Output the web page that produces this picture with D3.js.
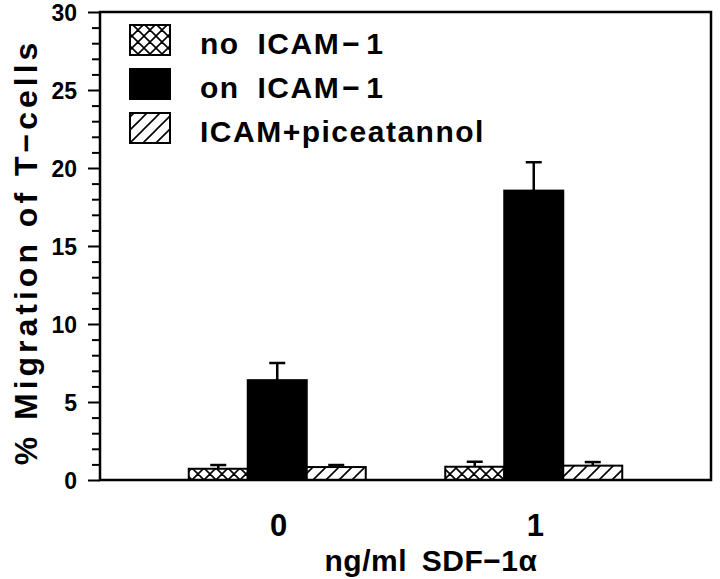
<!DOCTYPE html>
<html><head><meta charset="utf-8">
<script src="https://cdn.jsdelivr.net/npm/d3@7"></script>
<style>html,body{margin:0;padding:0;background:#fff;}svg{display:block;}
text{font-family:"Liberation Sans",Arial,Helvetica,sans-serif;font-weight:bold;fill:#000;}</style>
</head><body>
<script>
const categories = ["0", "1"];
const seriesNames = ["no ICAM\u22121", "on ICAM\u22121", "ICAM+piceatannol"];
const noIcam = [0.72, 0.85];
const noIcamErr = [0.24, 0.32];
const onIcam = [6.4, 18.55];
const onIcamErr = [1.1, 1.82];
const piceatannol = [0.83, 0.92];
const piceatannolErr = [0.13, 0.23];
const yTicks = [0, 5, 10, 15, 20, 25, 30];
const xTitle = "ng/ml SDF\u22121\u03b1";
const yTitle = "% Migration of T\u2212cells";

const W = 720, H = 579;
const mLeft = 100, mRight = 711, mTop = 12, mBottom = 480;
const svg = d3.select("body").append("svg").attr("width", W).attr("height", H);

const defs = svg.append("defs");
const cross = defs.append("pattern").attr("id","cross").attr("patternUnits","userSpaceOnUse")
  .attr("width",12).attr("height",12);
cross.append("rect").attr("width",12).attr("height",12).attr("fill","#fff");
cross.append("path").attr("d","M0,0L12,12M12,0L0,12M-6,6L6,18M6,-6L18,6M-6,6L6,-6M6,18L18,6")
  .attr("stroke","#000").attr("stroke-width",1.6).attr("fill","none");
const diag = defs.append("pattern").attr("id","diag").attr("patternUnits","userSpaceOnUse")
  .attr("width",13).attr("height",13);
diag.append("rect").attr("width",13).attr("height",13).attr("fill","#fff");
diag.append("path").attr("d","M0,13L13,0M-6.5,6.5L6.5,-6.5M6.5,19.5L19.5,6.5")
  .attr("stroke","#000").attr("stroke-width",1.6).attr("fill","none");
const fills = ["url(#cross)", "#000", "url(#diag)"];

const y = d3.scaleLinear().domain([0, 30]).range([mBottom, mTop]);
const x0 = d3.scalePoint().domain(categories).range([mLeft, mRight]).padding(0.691);
const x1 = d3.scaleBand().domain(d3.range(3)).range([-88.5, 88.5]);

const data = [];
categories.forEach((c, i) => {
  [[noIcam, noIcamErr], [onIcam, onIcamErr], [piceatannol, piceatannolErr]].forEach((s, k) => {
    data.push({c, k, v: s[0][i], e: s[1][i]});
  });
});

// bars
const g = svg.append("g");
g.selectAll("rect.bar").data(data).join("rect")
  .attr("x", d => x0(d.c) + x1(d.k))
  .attr("y", d => y(d.v))
  .attr("width", x1.bandwidth())
  .attr("height", d => y(0) - y(d.v))
  .attr("fill", d => fills[d.k])
  .attr("stroke", "#000").attr("stroke-width", 2);
// error bars
g.selectAll("line.err").data(data).join("line")
  .attr("x1", d => x0(d.c) + x1(d.k) + x1.bandwidth()/2)
  .attr("x2", d => x0(d.c) + x1(d.k) + x1.bandwidth()/2)
  .attr("y1", d => y(d.v)).attr("y2", d => y(d.v + d.e))
  .attr("stroke", "#000").attr("stroke-width", 2.5);
g.selectAll("line.cap").data(data).join("line")
  .attr("x1", d => x0(d.c) + x1(d.k) + x1.bandwidth()/2 - 8)
  .attr("x2", d => x0(d.c) + x1(d.k) + x1.bandwidth()/2 + 8)
  .attr("y1", d => y(d.v + d.e)).attr("y2", d => y(d.v + d.e))
  .attr("stroke", "#000").attr("stroke-width", 2.5);

// frame
svg.append("rect").attr("x", mLeft).attr("y", mTop).attr("width", mRight - mLeft).attr("height", mBottom - mTop)
  .attr("fill", "none").attr("stroke", "#000").attr("stroke-width", 2.5);

// y axis
const yAxis = d3.axisLeft(y).tickValues(yTicks).tickSize(12).tickPadding(11);
const ya = svg.append("g").attr("transform", `translate(${mLeft},0)`).call(yAxis);
ya.select(".domain").remove();
ya.selectAll(".tick line").attr("stroke", "#000").attr("stroke-width", 2);
ya.selectAll(".tick text").style("font-size", "23px").attr("dy", "0.36em");
const yMinor = d3.axisLeft(y).tickValues(d3.range(0, 31).filter(v => v % 5 !== 0)).tickSize(8).tickFormat("");
const ym = svg.append("g").attr("transform", `translate(${mLeft},0)`).call(yMinor);
ym.select(".domain").remove();
ym.selectAll(".tick line").attr("stroke", "#000").attr("stroke-width", 2);

// x axis labels
const xAxis = d3.axisBottom(x0).tickSize(0).tickPadding(34);
const xa = svg.append("g").attr("transform", `translate(0,${mBottom})`).call(xAxis);
xa.select(".domain").remove();
xa.selectAll(".tick text").style("font-size", "31px").attr("dx", "1");

svg.append("text").attr("x", 431).attr("y", 571).attr("text-anchor", "middle")
  .style("font-size", "30px").style("letter-spacing", "0.5px").style("word-spacing", "6px").text(xTitle);
svg.append("text").attr("transform", "translate(37,252) rotate(-90)").attr("text-anchor", "middle")
  .style("font-size", "32px").style("letter-spacing", "4px").text(yTitle);

// legend
const leg = svg.append("g");
seriesNames.forEach((n, k) => {
  const ly = 25 + k * 44;
  leg.append("rect").attr("x", 130).attr("y", ly).attr("width", 40).attr("height", 30)
    .attr("fill", fills[k]).attr("stroke", "#000").attr("stroke-width", 2);
  const t = leg.append("text").attr("x", 200).attr("y", ly + 29).style("font-size", "30px")
    .style("letter-spacing", "1.5px").style("word-spacing", "8px");
  const parts = n.split("\u2212");
  if (parts.length === 2) {
    t.append("tspan").text(parts[0]);
    t.append("tspan").attr("dx", 2).text("\u2212");
    t.append("tspan").attr("dx", 5).text(parts[1]);
  } else {
    t.text(n);
  }
});
</script>
</body></html>
